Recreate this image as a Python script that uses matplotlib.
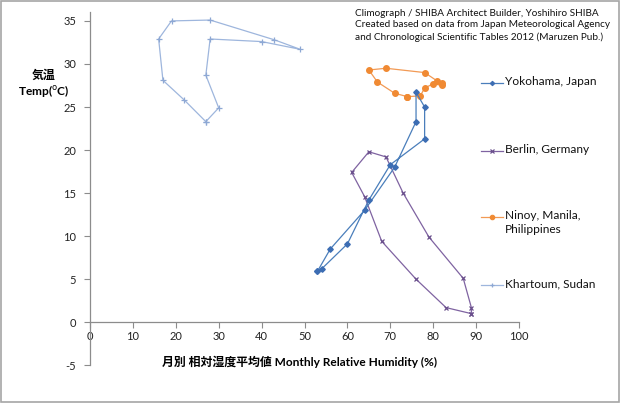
import matplotlib
matplotlib.use("Agg")
import matplotlib.pyplot as plt
from matplotlib.patches import Rectangle
from matplotlib.lines import Line2D

plt.rcParams['axes.unicode_minus'] = False

# Monthly data Jan..Dec (loop closed back to Jan when drawing)
yokohama_hum = [53, 54, 60, 65, 70, 78, 78, 76, 76, 71, 64, 56]
yokohama_temp = [5.9, 6.2, 9.1, 14.2, 18.3, 21.3, 25.0, 26.7, 23.3, 18.0, 13.0, 8.5]

berlin_hum = [88.9, 83, 76, 68, 64, 61, 65, 69, 73, 79, 87, 88.9]
berlin_temp = [1.0, 1.7, 5.0, 9.4, 14.6, 17.4, 19.8, 19.2, 15.0, 9.9, 5.1, 1.7]

manila_hum = [74, 71, 67, 65, 69, 78, 81, 82, 82, 80, 78, 77]
manila_temp = [26.2, 26.6, 27.9, 29.3, 29.5, 29.0, 28.0, 27.8, 27.5, 27.7, 27.2, 26.3]

khartoum_hum = [27, 22, 17, 16, 19, 28, 43, 49, 40, 28, 27, 30]
khartoum_temp = [23.3, 25.8, 28.1, 32.9, 35.0, 35.1, 32.8, 31.7, 32.6, 32.9, 28.7, 24.9]

series_names = ["Yokohama, Japan", "Berlin, Germany", "Ninoy, Manila,\nPhilippines", "Khartoum, Sudan"]

x_ticks = list(range(0, 101, 10))
y_ticks = list(range(-5, 36, 5))

W, H = 620, 403
fig = plt.figure(figsize=(6.2, 4.03), dpi=100)
ax = fig.add_axes([90/W, (H-365.3)/H, 429/W, (365.3-12.3)/H])

def closed(a):
    return list(a) + [a[0]]

styles = [
    dict(color="#4A7EBB", marker="D", ms=2.8, mfc="#3C6DB3", mec="#3C6DB3", lw=0.9, zorder=5),
    dict(color="#7F63A1", marker="x", ms=3.2, mew=0.9, mec="#6A4F8C", lw=0.9, zorder=4),
    dict(color="#F29A55", marker="o", ms=4.0, mfc="#F08A33", mec="#F08A33", lw=0.9, zorder=4),
    dict(color="#9EB6DD", marker="+", ms=4.0, mew=0.9, mec="#8EA8D4", lw=0.9, zorder=4),
]
data = [(yokohama_hum, yokohama_temp), (berlin_hum, berlin_temp),
        (manila_hum, manila_temp), (khartoum_hum, khartoum_temp)]

for (hx, ty), st, name in zip(data, styles, series_names):
    ax.plot(closed(hx), closed(ty), label=name, **st)

ax.set_xlim(0, 100)
ax.set_ylim(-5, 36)
ax.spines['top'].set_visible(False)
ax.spines['right'].set_visible(False)
ax.spines['bottom'].set_position(('data', 0))
ax.spines['left'].set_bounds(-5, 36)
for s in ['bottom', 'left']:
    ax.spines[s].set_color("#8C8C8C")
    ax.spines[s].set_linewidth(0.9)
ax.set_xticks(x_ticks)
ax.set_yticks(y_ticks)
ax.tick_params(axis='both', direction='out', length=4, width=0.8, color="#8C8C8C",
               labelsize=8, labelcolor="#222222")
for lab in ax.get_xticklabels() + ax.get_yticklabels():
    lab.set_family(['Lato', 'DejaVu Sans'])
ax.tick_params(axis='y', pad=6)
ax.tick_params(axis='x', pad=2)

fam = ['Lato', 'Noto Sans CJK JP', 'DejaVu Sans']
fig.text(300/W, 1 - 362/H, "月別 相対湿度平均値 Monthly Relative Humidity (%)",
         ha='center', va='center', fontsize=8.6, fontweight='bold', family=fam)
fig.text(44/W, 1 - 75/H, "気温", ha='center', va='center', fontsize=8.6,
         fontweight='bold', family=fam)
fig.text(44/W, 1 - 91/H, "Temp($^{\\mathrm{o}}$C)", ha='center', va='center', fontsize=8.6,
         fontweight='bold', family=fam)

note = ("Climograph / SHIBA Architect Builder, Yoshihiro SHIBA\n"
        "Created based on data from Japan Meteorological Agency\n"
        "and Chronological Scientific Tables 2012 (Maruzen Pub.)")
fig.text(355/W, 1 - 9/H, note, ha='left', va='top', fontsize=7.2,
         family=['Lato', 'DejaVu Sans'], linespacing=1.35, color="#111111")

# manual legend
leg_y = [83, 151, 217, 285]
for st, name, yy in zip(styles, series_names, leg_y):
    yf = 1 - yy/H
    fig.add_artist(Line2D([481/W, 503/W], [yf, yf], transform=fig.transFigure,
                          color=st['color'], lw=0.9))
    fig.add_artist(Line2D([492/W], [yf], transform=fig.transFigure, linestyle='none',
                          marker=st['marker'], ms=st['ms'] * 0.8,
                          mfc=st.get('mfc', st['color']), mec=st.get('mec', st['color']),
                          mew=st.get('mew', 0.8)))
    fig.text(505/W, 1 - (yy - 7)/H, name, ha='left', va='top', fontsize=8.6,
             family=['Lato', 'DejaVu Sans'], linespacing=1.3, color="#111111")

fig.patches.append(Rectangle((0.0015, 0.002), 0.997, 0.996, transform=fig.transFigure,
                             fill=False, edgecolor="#A6A6A6", lw=1.2))

fig.savefig("out.png", dpi=100)
